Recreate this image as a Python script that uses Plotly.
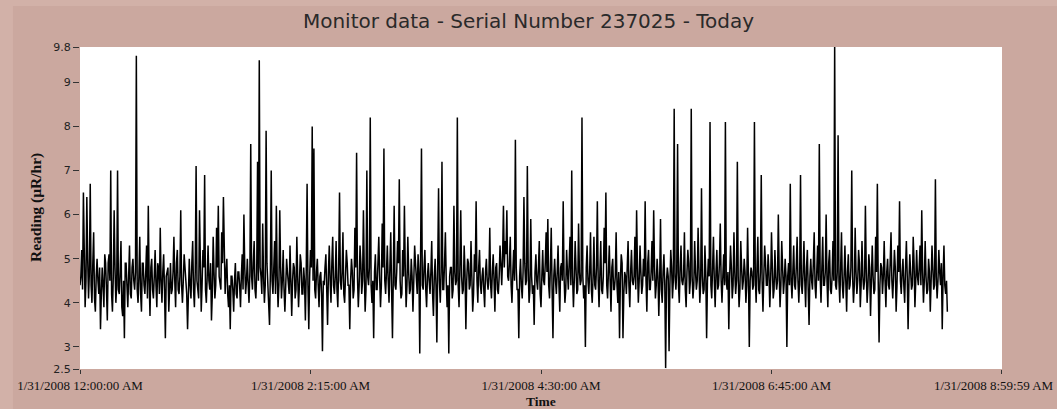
import datetime as dt
import plotly.graph_objects as go

# Readings (uR/hr) taken on each minute, grouped by hour
hour0 = [4.4, 5.2, 6.5, 3.9, 6.4, 4.1, 6.7, 4.0, 5.6, 3.8, 5.0, 4.2, 3.4, 4.8, 3.9, 4.9, 3.6, 5.1, 7.0, 3.8,
         6.1, 4.0, 7.0, 4.2, 5.4, 3.7, 3.2, 4.9, 3.9, 5.3, 4.1, 5.0, 4.3, 9.6, 4.0, 5.5, 3.8, 4.9, 4.2, 5.3,
         6.2, 3.7, 5.0, 4.1, 5.2, 3.9, 4.8, 5.7, 4.0, 5.1, 3.2, 4.7, 3.8, 4.9, 4.3, 5.5, 3.9, 5.2, 4.2, 6.1]
hour1 = [4.0, 5.1, 4.4, 3.4, 5.0, 4.1, 5.4, 3.9, 7.1, 4.2, 6.1, 3.8, 5.2, 6.9, 4.0, 5.3, 4.3, 3.6, 5.5, 4.1,
         5.7, 6.2, 4.4, 5.6, 6.4, 4.2, 5.0, 3.9, 3.4, 4.6, 3.8, 4.9, 4.1, 4.7, 3.9, 5.1, 6.0, 4.2, 5.0, 4.0,
         7.6, 4.3, 5.4, 4.1, 7.2, 9.5, 4.6, 5.8, 4.0, 7.9, 4.4, 3.5, 7.0, 4.2, 5.4, 6.2, 3.9, 6.1, 4.1, 5.2]
hour2 = [3.8, 5.0, 4.3, 5.3, 3.7, 4.9, 4.1, 5.5, 3.9, 5.1, 4.2, 4.8, 3.6, 6.7, 3.4, 5.2, 8.0, 7.5, 4.1, 5.0,
         3.9, 4.7, 2.9, 4.4, 5.1, 3.5, 5.3, 4.0, 5.5, 4.2, 5.4, 3.9, 6.5, 4.3, 5.6, 4.0, 5.2, 4.4, 3.4, 5.0,
         4.1, 5.7, 7.4, 3.9, 5.3, 4.2, 6.1, 3.8, 7.0, 4.4, 8.2, 4.0, 3.2, 5.1, 4.3, 5.5, 3.9, 5.8, 7.5, 4.2]
hour3 = [5.3, 4.0, 5.6, 3.2, 6.2, 4.3, 5.4, 6.8, 4.1, 5.2, 6.2, 3.9, 5.5, 4.2, 5.0, 3.8, 5.3, 4.4, 5.1, 2.85,
         7.5, 4.3, 5.2, 3.9, 4.9, 4.2, 5.4, 3.7, 5.0, 3.1, 6.6, 4.0, 7.2, 4.3, 5.6, 3.9, 2.85, 4.8, 4.1, 6.2,
         4.4, 8.2, 3.9, 6.1, 4.2, 5.3, 3.4, 5.0, 4.3, 5.4, 3.8, 5.1, 6.3, 4.0, 5.2, 4.2, 4.8, 3.9, 5.0, 4.3]
hour4 = [5.7, 4.1, 5.1, 3.8, 4.9, 4.2, 5.3, 4.4, 6.2, 5.4, 6.1, 4.5, 5.5, 4.0, 5.2, 7.7, 4.3, 3.2, 5.0, 4.1,
         6.4, 4.4, 7.1, 4.0, 5.9, 4.2, 3.5, 5.1, 4.3, 5.4, 3.9, 5.2, 4.4, 5.6, 5.9, 4.1, 5.7, 3.2, 5.0, 4.2,
         5.3, 3.8, 4.9, 6.3, 4.0, 5.2, 4.3, 5.5, 7.0, 3.9, 5.4, 4.2, 5.8, 4.4, 8.2, 4.1, 3.0, 5.3, 4.2, 5.6]
hour5 = [4.0, 5.5, 4.3, 6.3, 3.9, 5.4, 4.2, 5.7, 6.5, 4.1, 5.3, 3.8, 5.0, 4.3, 5.6, 4.0, 3.2, 5.1, 3.2, 4.7,
         4.2, 5.4, 3.9, 5.2, 4.4, 5.5, 6.1, 4.0, 5.3, 4.2, 5.0, 6.3, 3.8, 5.2, 4.3, 5.4, 6.1, 4.1, 5.0, 3.7,
         5.9, 4.0, 5.1, 2.52, 4.8, 2.9, 5.2, 4.1, 8.4, 4.3, 7.6, 4.0, 5.3, 4.4, 5.6, 3.9, 5.2, 4.2, 8.4, 4.1]
hour6 = [5.4, 4.3, 5.7, 4.0, 6.6, 4.2, 5.3, 3.2, 5.0, 8.1, 4.1, 5.5, 3.9, 5.2, 4.4, 5.8, 4.0, 5.1, 8.1, 4.3,
         3.4, 5.3, 4.1, 5.6, 4.2, 7.2, 3.9, 5.4, 4.3, 5.0, 4.0, 5.7, 3.0, 4.8, 4.3, 8.1, 4.0, 5.5, 4.2, 6.9,
         3.8, 5.3, 4.4, 5.1, 3.9, 5.6, 4.1, 5.2, 4.3, 6.0, 3.9, 5.4, 4.2, 5.0, 3.0, 4.9, 6.7, 4.1, 5.3, 4.3]
hour7 = [5.5, 4.0, 6.9, 4.2, 5.4, 3.9, 5.2, 3.5, 5.0, 4.3, 5.6, 4.1, 5.3, 7.6, 4.0, 5.5, 4.4, 6.0, 3.9, 5.2,
         4.2, 5.4, 9.9, 4.3, 7.8, 4.0, 5.6, 4.1, 5.3, 3.8, 5.1, 4.4, 7.0, 4.0, 5.7, 4.2, 5.2, 3.9, 5.4, 4.3,
         6.2, 4.0, 5.1, 3.7, 5.3, 4.2, 5.5, 6.7, 3.1, 4.9, 4.2, 5.4, 3.9, 5.0, 4.3, 5.6, 4.1, 5.2, 3.8, 5.3]
hour8 = [6.3, 4.2, 5.0, 4.0, 5.4, 3.4, 5.1, 4.3, 5.5, 3.9, 5.2, 4.4, 5.3, 6.1, 4.0, 5.4, 4.2, 5.0, 3.8, 5.3,
         4.3, 6.8, 4.1, 5.2, 4.4, 3.4, 5.3, 4.2, 3.8]

# Readings taken at half past each minute
half0 = [4.6, 4.3, 4.8, 4.5, 5.0, 4.7, 4.4, 4.9, 4.1, 4.6, 4.5, 4.8, 4.2, 4.4, 5.1, 4.3, 4.9, 4.5, 4.2, 4.6,
         4.8, 4.4, 4.3, 4.7, 3.9, 4.5, 4.9, 4.4, 4.6, 4.2, 4.8, 4.5, 4.7, 4.3, 4.6, 4.2, 4.9, 4.4, 4.7, 4.1,
         4.5, 4.8, 4.3, 4.6, 4.4, 4.9, 4.2, 4.5, 4.7, 4.3, 4.6, 4.8, 4.4, 4.2, 4.7, 4.5, 4.9, 4.3, 4.6, 4.4]
half1 = [4.5, 4.8, 4.2, 4.6, 4.4, 4.9, 4.3, 4.7, 4.5, 4.1, 4.7, 4.4, 4.8, 4.3, 4.6, 4.5, 4.9, 4.2, 4.7, 4.4,
         4.8, 4.6, 4.3, 4.9, 4.5, 4.7, 4.2, 4.4, 4.6, 4.3, 4.5, 4.2, 4.7, 4.4, 4.6, 4.3, 4.8, 4.5, 4.4, 4.7,
         4.6, 4.9, 4.3, 4.7, 4.5, 4.8, 4.2, 4.6, 4.4, 4.9, 4.3, 4.7, 4.5, 4.8, 4.2, 4.6, 4.4, 4.8, 4.5, 4.3]
half2 = [4.4, 4.7, 4.2, 4.6, 4.5, 4.8, 4.3, 4.6, 4.4, 4.9, 4.2, 4.5, 4.7, 4.4, 4.6, 4.8, 4.5, 4.3, 4.7, 4.4,
         4.6, 4.2, 4.5, 4.8, 4.3, 4.7, 4.5, 4.9, 4.4, 4.6, 4.3, 4.8, 4.5, 4.7, 4.2, 4.6, 4.9, 4.4, 4.5, 4.7,
         4.3, 4.8, 4.6, 4.4, 4.9, 4.5, 4.7, 4.3, 4.6, 4.8, 4.4, 4.5, 4.7, 4.3, 4.9, 4.6, 4.4, 4.8, 4.5, 4.7]
half3 = [4.5, 4.8, 4.3, 4.6, 4.4, 4.7, 4.9, 4.5, 4.2, 4.6, 4.8, 4.4, 4.7, 4.3, 4.6, 4.5, 4.9, 4.2, 4.7, 4.5,
         4.4, 4.8, 4.3, 4.6, 4.5, 4.7, 4.2, 4.6, 4.4, 4.8, 4.5, 4.7, 4.3, 4.9, 4.5, 4.4, 4.6, 4.8, 4.3, 4.7,
         4.5, 4.4, 4.8, 4.6, 4.3, 4.7, 4.5, 4.9, 4.4, 4.6, 4.2, 4.7, 4.5, 4.8, 4.4, 4.6, 4.3, 4.7, 4.5, 4.6]
half4 = [4.4, 4.7, 4.5, 4.8, 4.3, 4.6, 4.9, 5.0, 4.8, 5.1, 4.6, 4.9, 4.4, 4.7, 4.5, 4.8, 4.3, 4.6, 4.4, 4.7,
         4.9, 4.5, 4.8, 4.3, 4.6, 4.4, 4.7, 4.5, 4.8, 4.2, 4.6, 4.5, 4.9, 4.7, 4.4, 4.8, 4.3, 4.6, 4.5, 4.7,
         4.4, 4.8, 4.5, 4.6, 4.3, 4.7, 4.9, 4.4, 4.6, 4.5, 4.8, 4.3, 4.7, 4.5, 4.6, 4.4, 4.8, 4.5, 4.7, 4.3]
half5 = [4.6, 4.4, 4.8, 4.5, 4.7, 4.3, 4.6, 4.9, 4.4, 4.7, 4.5, 4.8, 4.3, 4.6, 4.4, 4.7, 4.5, 4.9, 4.2, 4.6,
         4.8, 4.4, 4.7, 4.5, 4.6, 4.3, 4.8, 4.5, 4.7, 4.4, 4.6, 4.5, 4.9, 4.3, 4.7, 4.5, 4.8, 4.4, 4.6, 4.5,
         4.3, 4.7, 4.4, 4.5, 4.6, 4.4, 4.8, 4.5, 4.6, 4.7, 4.4, 4.8, 4.5, 4.6, 4.3, 4.7, 4.9, 4.5, 4.6, 4.4]
half6 = [4.7, 4.5, 4.8, 4.4, 4.6, 4.3, 4.7, 4.5, 4.6, 4.4, 4.8, 4.5, 4.7, 4.3, 4.9, 4.5, 4.6, 4.4, 4.5, 4.7,
         4.6, 4.8, 4.4, 4.7, 4.5, 4.6, 4.3, 4.8, 4.5, 4.7, 4.4, 4.6, 4.5, 4.7, 4.4, 4.6, 4.8, 4.3, 4.7, 4.5,
         4.6, 4.9, 4.4, 4.7, 4.5, 4.8, 4.3, 4.6, 4.5, 4.7, 4.4, 4.8, 4.5, 4.6, 4.6, 4.4, 4.5, 4.7, 4.4, 4.8]
half7 = [4.5, 4.6, 4.4, 4.7, 4.5, 4.8, 4.3, 4.6, 4.5, 4.9, 4.4, 4.7, 4.5, 4.6, 4.8, 4.4, 4.7, 4.5, 4.9, 4.3,
         4.6, 4.5, 4.4, 4.7, 4.5, 4.8, 4.4, 4.6, 4.5, 4.7, 4.3, 4.8, 4.6, 4.4, 4.7, 4.5, 4.9, 4.4, 4.6, 4.5,
         4.7, 4.4, 4.8, 4.5, 4.6, 4.3, 4.7, 4.5, 4.4, 4.8, 4.6, 4.5, 4.7, 4.4, 4.9, 4.5, 4.6, 4.8, 4.4, 4.7]
half8 = [4.5, 4.7, 4.4, 4.8, 4.6, 4.5, 4.7, 4.4, 4.9, 4.5, 4.6, 4.8, 4.4, 4.7, 4.5, 4.6, 4.3, 4.7, 4.5, 4.8,
         4.4, 4.6, 4.5, 4.7, 4.9, 4.6, 4.4, 4.5]

start_time = dt.datetime(2008, 1, 31, 0, 0, 0)

tick_times = ["2008-01-31 00:00:00", "2008-01-31 02:15:00", "2008-01-31 04:30:00",
              "2008-01-31 06:45:00", "2008-01-31 08:59:59"]
tick_labels = ["1/31/2008 12:00:00 AM", "1/31/2008 2:15:00 AM", "1/31/2008 4:30:00 AM",
               "1/31/2008 6:45:00 AM", "1/31/2008 8:59:59 AM"]
y_ticks = [2.5, 3, 4, 5, 6, 7, 8, 9, 9.8]
y_tick_labels = ["2.5", "3", "4", "5", "6", "7", "8", "9", "9.8"]

on_minute = hour0 + hour1 + hour2 + hour3 + hour4 + hour5 + hour6 + hour7 + hour8
half_minute = half0 + half1 + half2 + half3 + half4 + half5 + half6 + half7 + half8

times, readings = [], []
for i, v in enumerate(on_minute):
    t = start_time + dt.timedelta(minutes=i)
    times.append(t)
    readings.append(v)
    if i < len(half_minute):
        times.append(t + dt.timedelta(seconds=30))
        readings.append(half_minute[i])

outer = "#d2b1a8"
inner = "#cba89f"

fig = go.Figure()
fig.add_trace(go.Scatter(x=times, y=readings, mode="lines",
                         line=dict(color="#000000", width=1.5), hoverinfo="x+y",
                         showlegend=False))

serif = "Liberation Serif, Times New Roman, serif"
sans = "DejaVu Sans, Verdana, sans-serif"
tick_font = dict(family=serif, size=13, color="#111111")

# frame bands (slightly darker panel inside a lighter border)
bands = [
    dict(x0=-0.0727, x1=1.06, y0=1.0, y1=1.127),
    dict(x0=-0.0727, x1=1.06, y0=-0.2, y1=0.0),
    dict(x0=-0.0727, x1=0.0, y0=0.0, y1=1.0),
    dict(x0=1.0, x1=1.06, y0=0.0, y1=1.0),
]
shapes = [dict(type="rect", xref="paper", yref="paper", line=dict(width=0),
               fillcolor=inner, layer="below", **b) for b in bands]

# last tick label is right-aligned to the figure edge so that it stays whole
shown_tick_labels = tick_labels[:-1] + [""]

fig.update_layout(
    width=1057, height=409,
    margin=dict(l=80, r=55, t=47, b=40),
    paper_bgcolor=outer, plot_bgcolor="#ffffff",
    shapes=shapes,
    title=dict(text="Monitor data - Serial Number 237025 - Today",
               x=0.5, xref="container", xanchor="center",
               y=1 - 21 / 409, yref="container", yanchor="middle",
               font=dict(family=sans, size=20, color="#2a2a2a")),
    xaxis=dict(type="date", range=["2008-01-31 00:00:00", "2008-01-31 09:00:00"],
               tickmode="array", tickvals=tick_times, ticktext=shown_tick_labels,
               ticks="outside", ticklen=4, tickwidth=1, tickcolor="#333333",
               showgrid=False, zeroline=False, showline=False, automargin=False,
               tickfont=tick_font),
    yaxis=dict(range=[2.5, 9.8], tickmode="array", tickvals=y_ticks, ticktext=y_tick_labels,
               ticks="outside", ticklen=6, tickwidth=1, tickcolor="#333333",
               showgrid=False, zeroline=False, showline=False, automargin=False,
               tickfont=dict(family=sans, size=11, color="#222222")),
    annotations=[
        dict(text=tick_labels[-1], xref="paper", yref="paper",
             x=(1056 - 80) / 922, y=(369 - 385) / 322, xanchor="right", yanchor="middle",
             showarrow=False, font=tick_font),
        dict(text="<b>Reading (µR/hr)</b>", xref="paper", yref="paper",
             x=(36 - 80) / 922, y=0.5, xanchor="center", yanchor="middle",
             textangle=-90, showarrow=False,
             font=dict(family=serif, size=15.5, color="#111111")),
        dict(text="<b>Time</b>", xref="paper", yref="paper",
             x=0.5, y=(369 - 401) / 322, xanchor="center", yanchor="middle",
             showarrow=False, font=dict(family=serif, size=13.5, color="#111111")),
    ],
)

fig.write_html("out.html", config={"displayModeBar": False},
               post_script="document.body.style.margin='0';document.body.style.padding='0';"
                           "document.documentElement.style.overflow='hidden';")
